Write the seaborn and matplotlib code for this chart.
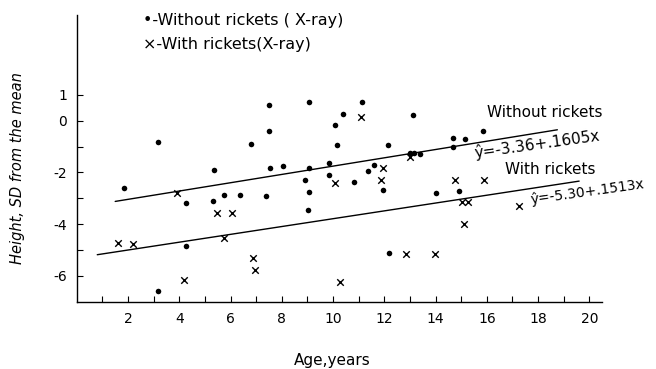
import numpy as np
import pandas as pd
import seaborn as sns
import matplotlib
matplotlib.use("Agg")
import matplotlib.pyplot as plt

# age (years) and height (SD from mean)
no_rickets_age = [1.86, 3.18, 3.18, 4.27, 4.25, 5.37, 5.33, 5.76, 6.38, 6.80,
                  7.38, 7.50, 7.50, 7.55, 8.03, 9.08, 9.08, 8.91, 9.08, 9.02,
                  9.83, 9.86, 10.06, 10.14, 10.40, 10.83, 11.11, 11.35, 11.61, 11.95,
                  12.13, 12.17, 12.99, 13.14, 13.41, 13.12, 14.03, 14.68, 14.68, 14.93,
                  15.16, 15.84]
no_rickets_sd = [-2.59, -0.81, -6.59, -3.18, -4.85, -1.92, -3.10, -2.88, -2.88, -0.91,
                 -2.92, 0.62, -0.40, -1.83, -1.75, 0.71, -1.83, -2.28, -2.76, -3.45,
                 -1.62, -2.11, -0.15, -0.95, 0.26, -2.35, 0.71, -1.93, -1.72, -2.68,
                 -0.93, -5.11, -1.24, -1.26, -1.29, 0.23, -2.78, -0.67, -1.00, -2.70,
                 -0.71, -0.39]

rickets_age = [1.62, 2.21, 3.93, 4.20, 5.46, 6.07, 5.75, 6.86, 6.96, 10.06,
               10.28, 11.09, 11.95, 11.87, 12.99, 12.86, 13.99, 14.77, 15.88, 15.03,
               15.25, 15.10, 17.27]
rickets_sd = [-4.71, -4.76, -2.78, -6.15, -3.56, -3.56, -4.53, -5.29, -5.76, -2.42,
              -6.23, 0.14, -1.83, -2.29, -1.41, -5.15, -5.15, -2.29, -2.29, -3.13,
              -3.13, -3.99, -3.29]

# fitted lines as printed on the chart
no_rickets_fit = (-3.36, 0.1605)
no_rickets_span = [1.5, 18.75]
rickets_fit = (-5.30, 0.1513)
rickets_span = [0.8, 19.6]

x_ticks = list(range(1, 21))
x_labels = [str(t) if t % 2 == 0 else "" for t in x_ticks]
y_ticks = [1, 0, -1, -2, -3, -4, -5, -6]
y_labels = ["1", "0", "", "-2", "", "-4", "", "-6"]

sns.set_style("ticks")
plt.rcParams["font.family"] = ["DejaVu Sans"]
plt.rcParams["text.color"] = "black"

fig = plt.figure(figsize=(6.56, 3.69), dpi=100)
ax = fig.add_axes([0.117, 0.182, 0.801, 0.777])

no_df = pd.DataFrame({"age": no_rickets_age, "sd": no_rickets_sd})
ri_df = pd.DataFrame({"age": rickets_age, "sd": rickets_sd})
sns.scatterplot(data=no_df, x="age", y="sd", marker="o", s=16, color="black",
                edgecolor="black", linewidth=0, ax=ax)
sns.scatterplot(data=ri_df, x="age", y="sd", marker="x", s=22, color="black",
                linewidth=1.0, ax=ax)

for (a, b), span in [(no_rickets_fit, no_rickets_span), (rickets_fit, rickets_span)]:
    xs = np.array(span)
    sns.lineplot(x=xs, y=a + b * xs, color="black", linewidth=1.0, ax=ax)

ax.set_xlim(0, 20.5)
ax.set_ylim(-7, 4.08)
ax.set_xticks(x_ticks)
ax.set_xticklabels(x_labels)
ax.set_yticks(y_ticks)
ax.set_yticklabels(y_labels)
ax.tick_params(direction="in", length=4, width=0.8, labelsize=10, colors="black")
ax.tick_params(axis="x", pad=7)
ax.tick_params(axis="y", pad=7)
sns.despine(ax=ax)
for s in ["left", "bottom"]:
    ax.spines[s].set_color("black")
    ax.spines[s].set_linewidth(1.0)
ax.set_xlabel("")
ax.set_ylabel("")

fig.text(332 / 656, 1 - 360 / 369, "Age,years", ha="center", va="center", fontsize=11)
fig.text(18 / 656, 1 - 168 / 369, "Height, SD from the mean", rotation=90,
         ha="center", va="center", fontsize=10.5, style="italic")

fig.text(143 / 656, 1 - 21 / 369, "•-Without rickets ( X-ray)", ha="left", va="center", fontsize=11.5)
fig.text(143 / 656, 1 - 44 / 369, "×-With rickets(X-ray)", ha="left", va="center", fontsize=11.5)

ax.text(16.0, 0.3, "Without rickets", ha="left", va="center", fontsize=11)
ax.text(15.5, -1.25, "ŷ=-3.36+.1605x", ha="left", va="center", fontsize=11,
        rotation=8, rotation_mode="anchor", clip_on=False)
ax.text(16.7, -1.9, "With rickets", ha="left", va="center", fontsize=11)
ax.text(17.7, -3.05, "ŷ=-5.30+.1513x", ha="left", va="center", fontsize=10,
        rotation=8, rotation_mode="anchor", clip_on=False)

fig.savefig("out.png", dpi=100)
